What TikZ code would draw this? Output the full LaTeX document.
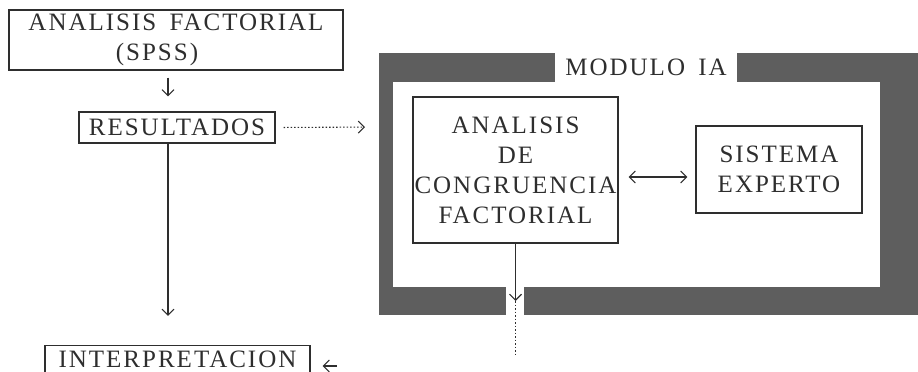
\documentclass[tikz,border=0pt]{standalone}
\usepackage{fontspec}
\setmainfont{Liberation Serif}
\newfontfamily\typfont[LetterSpace=8,WordSpace=1.6]{Liberation Serif}
\usetikzlibrary{arrows.meta}
\definecolor{inkc}{HTML}{2E2E2E}
\definecolor{framegray}{HTML}{5E5E5E}
\tikzset{
  box/.style={draw=inkc, line width=1.1pt, inner sep=0pt, align=center,
    text=inkc, font=\typfont\fontsize{25}{30}\selectfont},
  lab/.style={inner sep=0pt, text=inkc, font=\typfont\fontsize{25}{30}\selectfont},
  arr/.style={draw=inkc, line width=1.1pt, -{Straight Barb[length=6pt,width=12pt,line width=1.1pt]}},
  darr/.style={draw=inkc, line width=1.1pt, {Straight Barb[length=6pt,width=12pt,line width=1.1pt]}-{Straight Barb[length=6pt,width=12pt,line width=1.1pt]}},
  dotline/.style={draw=inkc, line width=1.1pt, dash pattern=on 1.5pt off 2pt}
}
\begin{document}
\begin{tikzpicture}[x=1pt,y=-1pt]
\useasboundingbox (0,0) rectangle (918,372);
% module frame
\fill[framegray] (379,53) rectangle (555,82);
\fill[framegray] (737,53) rectangle (918,82);
\fill[framegray] (379,53) rectangle (393,315);
\fill[framegray] (880,53) rectangle (918,315);
\fill[framegray] (379,287) rectangle (506,315);
\fill[framegray] (524,287) rectangle (918,315);
\node[lab] (modlab) at (646,67) {MODULO IA};
% nodes
\node[box, minimum width=334pt, minimum height=60pt] (af) at (176,40) {ANALISIS FACTORIAL\\(SPSS)\hspace*{38pt}};
\node[box, minimum width=196pt, minimum height=31pt] (res) at (177,127.5) {RESULTADOS};
\node[box, minimum width=265pt, minimum height=27pt] (interp) at (177.5,359) {INTERPRETACION};
\node[box, minimum width=205pt, minimum height=146pt] (cong) at (515.5,170) {ANALISIS\\DE\\CONGRUENCIA\\FACTORIAL};
\node[box, minimum width=166pt, minimum height=87pt] (se) at (779,169.5) {SISTEMA\\EXPERTO};
% helper coordinates
\coordinate (col) at (168,0);
\coordinate (modw) at (379,127);
\coordinate (ya) at (0,177);
\coordinate (ctip) at (515.5,301);
\coordinate (cend) at (515.5,357);
\coordinate (iret) at (337,366);
% connectors
\draw[arr, shorten <=7pt, shorten >=15pt] (af.south -| col) -- (res.north -| col);
\draw[arr, shorten >=29pt] (res.south -| col) -- (interp.north -| col);
\draw[dotline, -{Straight Barb[length=6pt,width=12pt,line width=1.1pt]}, shorten <=8pt, shorten >=14pt] (res.east) -- (modw);
\draw[darr, shorten <=10pt, shorten >=8pt] (cong.east |- ya) -- (se.west |- ya);
\draw[arr] (cong.south) -- (ctip);
\draw[dotline] (ctip) -- (cend);
\draw[arr, shorten >=12pt] (iret) -- (iret -| interp.east);
\end{tikzpicture}
\end{document}
